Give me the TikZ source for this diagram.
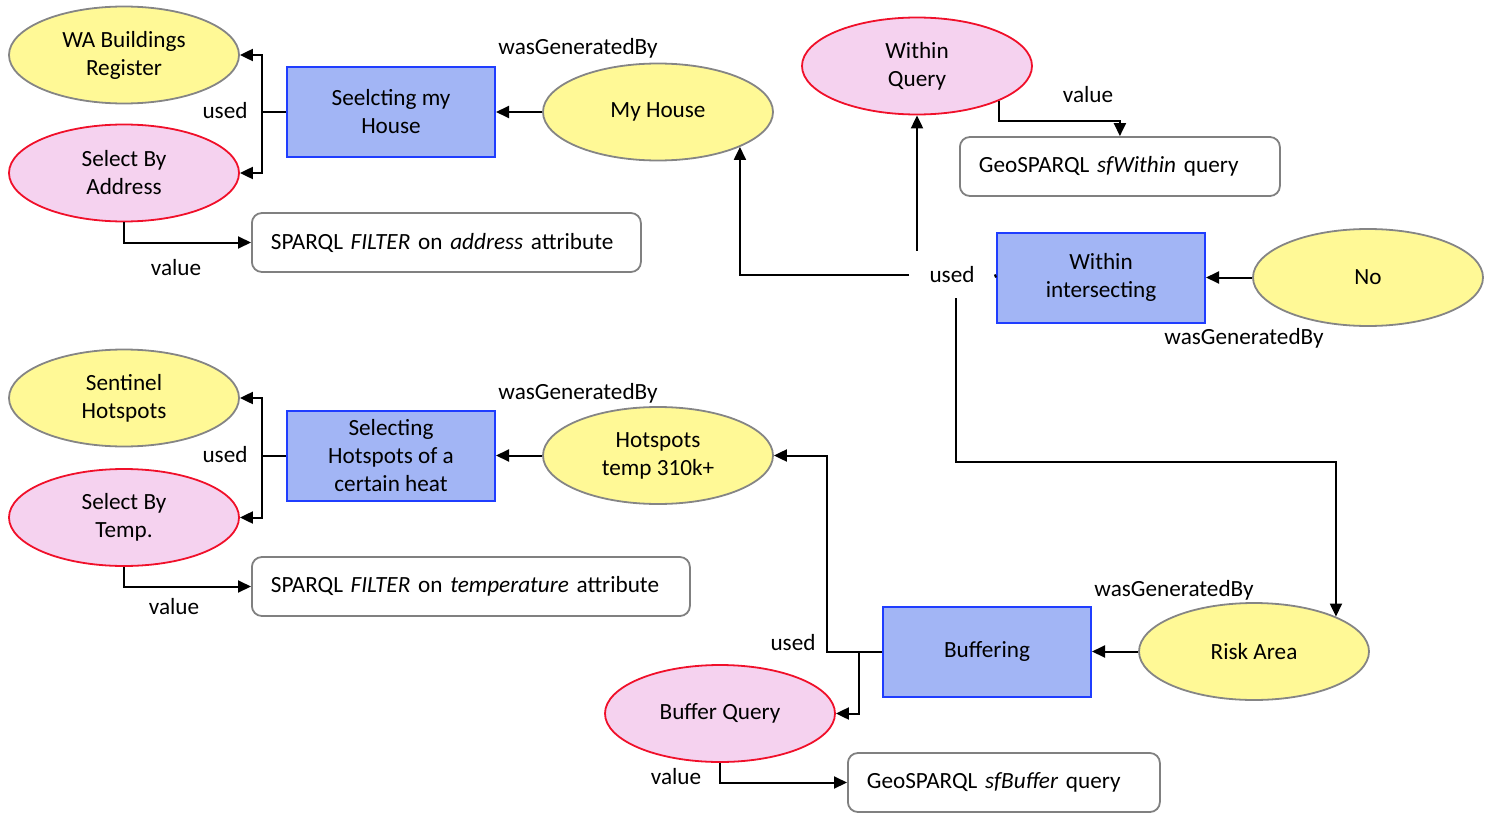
\documentclass[tikz,border=0pt]{standalone}
\usepackage{fontspec}
\setmainfont{Carlito}
\usepackage{tikz}
\usetikzlibrary{shapes.geometric,positioning,arrows.meta,calc}
\usepackage{xcolor}
\definecolor{entityfill}{HTML}{FFF996}
\definecolor{entityline}{HTML}{858585}
\definecolor{queryfill}{HTML}{F5D2EF}
\definecolor{queryline}{HTML}{F0102A}
\definecolor{actfill}{HTML}{A2B5F5}
\definecolor{actline}{HTML}{1F3DFF}
\definecolor{boxline}{HTML}{808080}

\begin{document}
\begin{tikzpicture}[
    node distance=133.5pt,
    font=\fontsize{11.6pt}{14pt}\selectfont,
    >={Triangle[length=6.5pt,width=6pt]},
    entity/.style={ellipse, draw=entityline, line width=0.9pt, fill=entityfill, minimum width=115pt, minimum height=48.5pt, inner sep=1pt, align=center},
    query/.style={entity, draw=queryline, fill=queryfill},
    activity/.style={rectangle, draw=actline, line width=1pt, fill=actfill, minimum width=104pt, minimum height=45pt, inner sep=1pt, align=center},
    valuebox/.style={rectangle, rounded corners=5pt, draw=boxline, line width=0.9pt, minimum height=29.5pt, inner xsep=9.5pt, align=left, anchor=west},
    lbl/.style={inner sep=0pt},
    arrow/.style={->, line width=1pt}
]
    \useasboundingbox (0,0) rectangle (744pt,-412pt);

    % My House
    \node (sel1) [activity] at (195.5pt,-56pt) {Seelcting my\\House};
    \node (wa) [entity, left of=sel1, yshift=28.5pt] {WA Buildings\\Register};
    \node (sba) [query, left of=sel1, yshift=-30.5pt] {Select By\\Address};
    \node (house) [entity, right of=sel1] {My House};
    \node (filt1) [valuebox, text width=175.5pt] at (125.5pt,-121.25pt) {SPARQL \textit{FILTER} on \textit{address} attribute};

    % Within
    \node (wq) [query] at (458.5pt,-33pt) {Within\\Query};
    \node (gw) [valuebox, text width=141pt] at (479.5pt,-83.25pt) {GeoSPARQL \textit{sfWithin} query};
    \node (wi) [activity] at (550.5pt,-138.75pt) {Within\\intersecting};
    \node (no) [entity, right of=wi] {No};
    \node (usedw) [lbl, minimum width=42.5pt, minimum height=23.5pt] at (476pt,-137.25pt) {used};

    % Hotspots
    \node (sel2) [activity] at (195.5pt,-227.75pt) {Selecting\\Hotspots of a\\certain heat};
    \node (sent) [entity, left of=sel2, yshift=28.75pt] {Sentinel\\Hotspots};
    \node (sbt) [query, left of=sel2, yshift=-31pt] {Select By\\Temp.};
    \node (hot) [entity, right of=sel2] {Hotspots\\temp 310k+};
    \node (filt2) [valuebox, text width=200pt] at (125.5pt,-293.25pt) {SPARQL \textit{FILTER} on \textit{temperature} attribute};

    % Buffering
    \node (buf) [activity] at (493.5pt,-325.75pt) {Buffering};
    \node (risk) [entity, right of=buf] {Risk Area};
    \node (bq) [query] at (360pt,-356.75pt) {Buffer Query};
    \node (gb) [valuebox, text width=137pt] at (423.5pt,-391.25pt) {GeoSPARQL \textit{sfBuffer} query};

    % Labels
    \node (gen1) [lbl] at (289pt,-24pt) {wasGeneratedBy};
    \node (use1) [lbl] at (112.5pt,-55.5pt) {used};
    \node (val1) [lbl] at (88pt,-134pt) {value};
    \node (val2) [lbl] at (544pt,-47.5pt) {value};
    \node (gen2) [lbl] at (622pt,-169pt) {wasGeneratedBy};
    \node (gen3) [lbl] at (289pt,-196.5pt) {wasGeneratedBy};
    \node (use3) [lbl] at (112.5pt,-227.5pt) {used};
    \node (val3) [lbl] at (87pt,-303.5pt) {value};
    \node (gen4) [lbl] at (587pt,-295pt) {wasGeneratedBy};
    \node (use4) [lbl] at (396.5pt,-321.5pt) {used};
    \node (val4) [lbl] at (338pt,-388.5pt) {value};

    % My House arrows
    \draw [arrow] (sel1.west) -- ++(-12pt,0) |- (wa.east);
    \draw [arrow] (sel1.west) -- ++(-12pt,0) |- (sba.east);
    \draw [arrow] (sba.south) |- (filt1.west);
    \draw [arrow] (house.west) -- (sel1.east);

    % Within arrows
    \draw [line width=1pt] (wi.west) -- (usedw.east);
    \draw [arrow] (usedw.west) -| (house.south east);
    \draw [arrow] (usedw.north -| wq.south) -- (wq.south);
    \draw [arrow] (usedw.south) ++(1.75pt,0) -- ++(0,-82pt) -| (risk.north east);
    \draw [arrow] (no.west) -- (wi.east);
    \draw [arrow] (wq.south east) -- ++(0,-10pt) -| (gw.north);

    % Hotspots arrows
    \draw [arrow] (sel2.west) -- ++(-12pt,0) |- (sent.east);
    \draw [arrow] (sel2.west) -- ++(-12pt,0) |- (sbt.east);
    \draw [arrow] (sbt.south) |- (filt2.west);
    \draw [arrow] (hot.west) -- (sel2.east);

    % Buffering arrows
    \draw [arrow] (buf.west) -- ++(-27.5pt,0) |- (hot.east);
    \draw [arrow] (buf.west) -- ++(-11.5pt,0) |- (bq.east);
    \draw [arrow] (risk.west) -- (buf.east);
    \draw [arrow] (bq.south) |- (gb.west);

\end{tikzpicture}
\end{document}
